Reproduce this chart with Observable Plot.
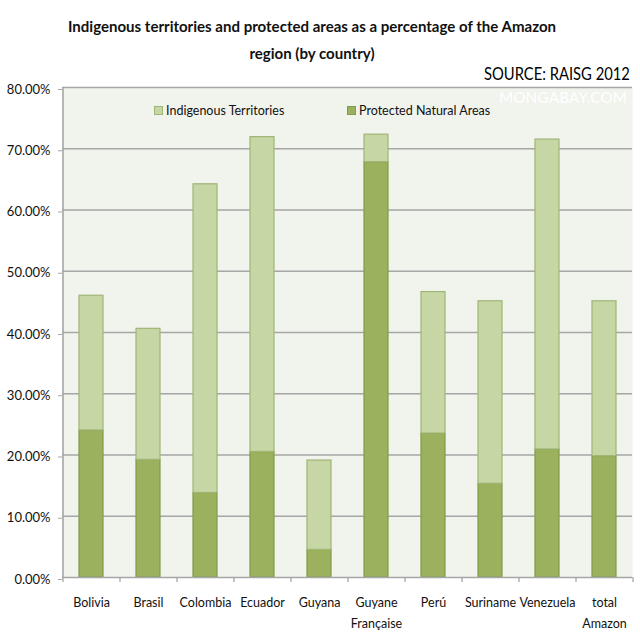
<!DOCTYPE html>
<html>
<head>
<meta charset="utf-8">
<script src="https://cdn.jsdelivr.net/npm/d3@7"></script>
<script src="https://cdn.jsdelivr.net/npm/@observablehq/plot@0.6"></script>
<style>
  body { margin: 0; background: #fff; font-family: Lato, "Open Sans", sans-serif; }
  #wrap { position: relative; width: 640px; height: 640px; overflow: hidden; }
  #title { position: absolute; top: 12px; left: -8px; width: 640px; text-align: center; font-weight: bold; font-size: 16px; line-height: 27px; color: #111; transform: scaleX(0.94); transform-origin: 50% 0; }
  #source { position: absolute; right: 10px; top: 62px; font-size: 18px; color: #000; z-index: 3; transform: scaleX(0.82); transform-origin: 100% 50%; }
  #watermark { position: absolute; right: 13px; top: 88px; font-size: 15px; color: #fff; letter-spacing: 0.3px; z-index: 3; }
  #chart { position: absolute; top: 60px; left: 0; }
  .leg { position: absolute; top: 103px; font-size: 12.5px; color: #111; z-index: 3; display: flex; align-items: center; }
  .sw { width: 7px; height: 7px; margin-right: 3px; border: 1px solid; }
</style>
</head>
<body>
<div id="wrap">
  <div id="title"></div>
  <div id="source"></div>
  <div id="watermark">MONGABAY.COM</div>
  <div id="legend"></div>
  <div id="chart"></div>
</div>
<script>
const titleLines = ["Indigenous territories and protected areas as a percentage of the Amazon", "region (by country)"];
const sourceText = "SOURCE: RAISG 2012";
const countries = ["Bolivia", "Brasil", "Colombia", "Ecuador", "Guyana", "Guyane Française", "Perú", "Suriname", "Venezuela", "total Amazon"];
const tickLabels = ["Bolivia", "Brasil", "Colombia", "Ecuador", "Guyana", "Guyane\nFrançaise", "Perú", "Suriname", "Venezuela", "total\nAmazon"];
const seriesNames = ["Indigenous Territories", "Protected Natural Areas"];
// percent of Amazon region (stacked: protected at bottom, indigenous on top)
const protectedAreas = [24.0, 19.2, 13.8, 20.5, 4.5, 67.8, 23.5, 15.3, 20.9, 19.8];
const indigenousTerritories = [22.0, 21.4, 50.4, 51.4, 14.6, 4.5, 23.1, 29.8, 50.6, 25.3];
const yTicks = [0, 10, 20, 30, 40, 50, 60, 70, 80];

const fills = {"Protected Natural Areas": "#9bb15d", "Indigenous Territories": "#c6d6a5"};
const strokes = {"Protected Natural Areas": "#7f9c47", "Indigenous Territories": "#9fb676"};

document.getElementById("title").innerHTML = titleLines.join("<br>");
document.getElementById("source").textContent = sourceText;

const legendPos = {"Indigenous Territories": 154, "Protected Natural Areas": 347};
const legend = document.getElementById("legend");
for (const s of seriesNames) {
  const el = document.createElement("div");
  el.className = "leg";
  el.style.left = legendPos[s] + "px";
  el.innerHTML = `<span class="sw" style="background:${fills[s]};border-color:${strokes[s]}"></span><span>${s}</span>`;
  legend.appendChild(el);
}

const rows = [];
countries.forEach((c, i) => rows.push({country: c, series: "Protected Natural Areas", value: protectedAreas[i]}));
countries.forEach((c, i) => rows.push({country: c, series: "Indigenous Territories", value: indigenousTerritories[i]}));

const W = 640, ML = 62, MR = 8;
const step = (W - ML - MR) / countries.length;
const labelOf = new Map(countries.map((c, i) => [c, tickLabels[i]]));
const grid = "#a6a6a6";

const chart = Plot.plot({
  width: W,
  height: 577,
  marginTop: 27,
  marginLeft: ML,
  marginRight: MR,
  marginBottom: 60,
  style: {fontFamily: "Lato, 'Open Sans', sans-serif", color: "#111", background: "transparent"},
  x: {domain: countries, paddingInner: 0.584, paddingOuter: 0.292, label: null},
  y: {domain: [0, 80], label: null},
  color: {type: "identity"},
  marks: [
    Plot.frame({fill: "#f1f3ed", stroke: null}),
    Plot.gridY(yTicks.filter(d => d > 0), {stroke: grid, strokeOpacity: 1, strokeWidth: 1.6}),
    Plot.ruleX([countries[0]], {dx: -step / 2, y1: 0, y2: 80, stroke: grid, strokeWidth: 1.6}),
    Plot.ruleX(countries, {dx: -step / 2, y1: 0, y2: 0, insetBottom: -5, stroke: grid, strokeWidth: 1.3}),
    Plot.ruleX([countries[countries.length - 1]], {dx: step / 2, y1: 0, y2: 0, insetBottom: -5, stroke: grid, strokeWidth: 1.3}),
    Plot.barY(rows, {
      x: "country", y: "value",
      fill: d => fills[d.series],
      stroke: d => strokes[d.series],
      strokeWidth: 1.2
    }),
    Plot.ruleY([0], {stroke: grid, strokeWidth: 1.6}),
    Plot.axisY(yTicks, {tickSize: 4, tickPadding: 8, stroke: grid, fill: "#111", fontSize: 13, tickFormat: d => d3.format(".2%")(d / 100), dy: 2}),
    Plot.axisX({tickSize: 0, tickPadding: 14, fontSize: 12.5, fill: "#111", lineHeight: 1.7, tickFormat: d => labelOf.get(d)})
  ]
});
document.getElementById("chart").appendChild(chart);
</script>
</body>
</html>
